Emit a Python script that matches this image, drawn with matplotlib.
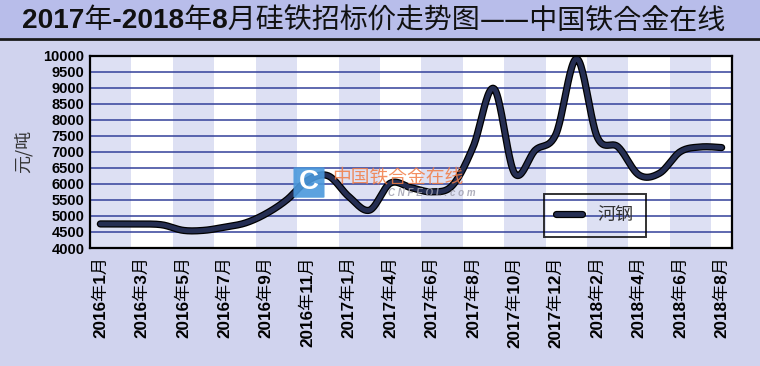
import matplotlib
matplotlib.use('Agg')
import matplotlib.pyplot as plt
import matplotlib.font_manager as fm
import matplotlib.patheffects as pe
from matplotlib.patches import Rectangle, FancyBboxPatch
from matplotlib.lines import Line2D
import numpy as np
import dataclasses

# ---------------- data ----------------
months = ["2016年1月", "2016年2月", "2016年3月", "2016年4月", "2016年5月", "2016年6月",
          "2016年7月", "2016年8月", "2016年9月", "2016年10月", "2016年11月", "2016年12月",
          "2017年1月", "2017年3月", "2017年4月", "2017年5月", "2017年6月", "2017年7月",
          "2017年8月", "2017年9月", "2017年10月", "2017年11月", "2017年12月", "2018年1月",
          "2018年2月", "2018年3月", "2018年4月", "2018年5月", "2018年6月", "2018年7月",
          "2018年8月"]
prices = [4750, 4750, 4750, 4720, 4550, 4550, 4650, 4780, 5070, 5500, 6100, 6250,
          5600, 5180, 6020, 5880, 5750, 5950, 7150, 8970, 6330, 7050, 7550, 9900,
          7450, 7150, 6280, 6330, 7000, 7150, 7130]
yticks = list(range(4000, 10001, 500))
title_a = "2017年-2018年8月硅铁招标价走势图"
title_b = "——中国铁合金在线"
series_name = "河钢"
ylabel = "元/吨"
wm_cn = "中国铁合金在线"
wm_en = "C N F E O L . c o m"

# ---------------- fonts ----------------
names = {f.name for f in fm.fontManager.ttflist}
def wnum(w):
    if isinstance(w, str):
        return fm.weight_dict.get(w, 400)
    return w
for cand in ['Noto Sans CJK SC', 'Noto Sans CJK JP', 'Noto Sans CJK TC']:
    ents = [f for f in fm.fontManager.ttflist if f.name == cand]
    if ents:
        reg = sorted(ents, key=lambda f: abs(wnum(f.weight) - 400))[0]
        fm.fontManager.ttflist.append(dataclasses.replace(reg, name='CJKReg', weight=400))
        fm.fontManager.ttflist.append(dataclasses.replace(reg, name='CJKReg', weight=700))
        break
try:
    fm.FontManager._findfont_cached.cache_clear()
except Exception:
    pass
LAT = 'Liberation Sans'
NARROW = 'Liberation Sans Narrow' if 'Liberation Sans Narrow' in names else 'Liberation Sans'
plt.rcParams['font.family'] = [LAT, 'CJKReg', 'DejaVu Sans']

W, H = 760, 366
fig = plt.figure(figsize=(W / 100, H / 100), dpi=100)
fig.patch.set_facecolor('#D0D3EE')

# title band
fig.patches.append(Rectangle((0, 1 - 37.5 / H), 1, 37.5 / H, transform=fig.transFigure,
                             facecolor='#B8BDEA', edgecolor='none', zorder=0))
fig.add_artist(Line2D([0, 1], [1 - 38.5 / H, 1 - 38.5 / H], transform=fig.transFigure,
                      color='#1a1a1a', lw=2.0))

ax = fig.add_axes([90 / W, 1 - 248 / H, (732 - 90) / W, (248 - 55.5) / H])
ax.set_facecolor('white')
n = len(prices)
x = np.arange(n)
ax.set_xlim(-0.5, n - 0.5)
ax.set_ylim(4000, 10000)

# alternating bands
for k in range(0, n, 4):
    ax.axvspan(k - 0.5, k + 1.5, facecolor='#DDE0F3', edgecolor='none', zorder=0.5)

ax.set_yticks(yticks)
ax.yaxis.grid(True, color='#33409A', lw=1.1, zorder=1)
ax.set_axisbelow(False)
for s in ax.spines.values():
    s.set_linewidth(1.6)
    s.set_color('black')
    s.set_zorder(5)

ax.set_yticklabels([str(v) for v in yticks], fontsize=10.5, fontweight='bold', family=[LAT])
ax.tick_params(axis='y', length=0, pad=4)
ax.set_xticks(x[::2])
ax.set_xticklabels(months[::2], rotation=90, fontsize=12.3, fontweight='bold',
                   family=[LAT, 'CJKReg'], va='top', ha='center')
ax.tick_params(axis='x', length=0, pad=6)

ax.set_ylabel(ylabel, family=['CJKReg'], fontsize=13, color='#333333', labelpad=8)


def smooth(xs, ys, per=24):
    P = np.column_stack([xs, ys]).astype(float)
    out = []
    m = len(P)
    for i in range(m - 1):
        p0 = P[max(i - 1, 0)]; p1 = P[i]; p2 = P[i + 1]; p3 = P[min(i + 2, m - 1)]
        c1 = p1 + (p2 - p0) / 6.0
        c2 = p2 - (p3 - p1) / 6.0
        t = np.linspace(0, 1, per, endpoint=(i == m - 2))[:, None]
        seg = (1 - t) ** 3 * p1 + 3 * (1 - t) ** 2 * t * c1 + 3 * (1 - t) * t ** 2 * c2 + t ** 3 * p2
        out.append(seg)
    return np.vstack(out)

cur = smooth(x, prices)
ax.plot(cur[:, 0], cur[:, 1], color='#252E52', lw=3.4, solid_capstyle='round', zorder=4,
        label=series_name,
        path_effects=[pe.Stroke(linewidth=5.2, foreground='black'), pe.Normal()])

leg = ax.legend(loc='center', bbox_to_anchor=(0.7866, 0.169), prop={'family': ['CJKReg'], 'size': 13},
                handlelength=1.4, handletextpad=0.9, borderpad=0.7, fancybox=False,
                frameon=True, borderaxespad=0)
leg.get_frame().set_facecolor('none')
leg.get_frame().set_edgecolor('black')
leg.get_frame().set_linewidth(1.4)
for t in leg.get_texts():
    t.set_color('#333333')

# watermark
fig.patches.append(FancyBboxPatch((295 / W, 1 - 197 / H), 28 / W, 29 / H,
                                  boxstyle='round,pad=0.002', transform=fig.transFigure,
                                  facecolor='#4A98DC', edgecolor='none', alpha=0.9, zorder=6))
fig.text(309 / W, 1 - 182.5 / H, 'C', fontsize=20, fontweight='bold', color='white',
         ha='center', va='center', family=[LAT], zorder=7)
fig.text(332 / W, 1 - 177 / H, wm_cn, fontsize=13.5, color='#F27C45', alpha=0.85,
         ha='left', va='center', family=['CJKReg'], zorder=7)
fig.text(388 / W, 1 - 193.5 / H, wm_en, fontsize=7, color='#A0A0B0', style='italic',
         fontweight='bold', ha='left', va='center', family=[LAT], zorder=7, alpha=0.85)

# title (bold latin digits + regular CJK), chained
r = fig.canvas.get_renderer()
base_y = 1 - 29 / H
t1 = fig.text(22 / W, base_y, title_a, family=[NARROW, 'CJKReg'], fontweight='bold',
              fontsize=20.2, ha='left', va='baseline', color='#111111')
bb = t1.get_window_extent(renderer=r)
fig.text(bb.x1 / W, base_y, title_b, family=['CJKReg'], fontsize=20.2,
         ha='left', va='baseline', color='#111111')

fig.savefig('out.png', dpi=100, facecolor=fig.get_facecolor())
